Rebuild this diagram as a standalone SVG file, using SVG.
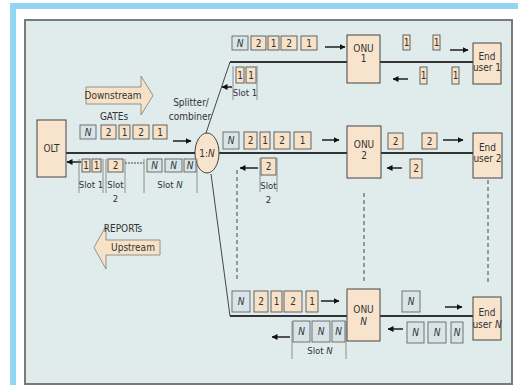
<svg xmlns="http://www.w3.org/2000/svg" width="523" height="385" viewBox="0 0 523 385">
<defs>
<marker id="ah" viewBox="0 0 6 6" refX="5.5" refY="3" markerWidth="6" markerHeight="6" markerUnits="userSpaceOnUse" orient="auto"><path d="M0,0 L6,3 L0,6 Z" fill="#111"/></marker>
<style>
.t{font-family:"DejaVu Sans Condensed","Liberation Sans Narrow","Liberation Sans",sans-serif;font-stretch:condensed;font-size:10px;fill:#333;text-anchor:middle}
.s{font-size:9.5px}
.i{font-style:italic}
.pb{fill:#f7e2c8;stroke:#555;stroke-width:0.9}
.nb{fill:#d8e4e7;stroke:#666;stroke-width:0.9}
.node{fill:#f8e4cc;stroke:#444;stroke-width:1}
.ln{stroke:#333;stroke-width:2;fill:none}
.thin{stroke:#333;stroke-width:0.9;fill:none}
.br{stroke:#777;stroke-width:0.8;fill:none}
.ar{stroke:#111;stroke-width:1.4;fill:none;marker-end:url(#ah)}
.dash{stroke:#333;stroke-width:0.9;stroke-dasharray:4,3;fill:none}
.big{fill:#f7e2c8;stroke:#888;stroke-width:0.9}
</style>
</defs>
<rect x="0" y="0" width="523" height="385" fill="#fff"/>
<rect x="10" y="3" width="508" height="6" fill="#92d6f4"/>
<rect x="10" y="3" width="6" height="382" fill="#92d6f4"/>
<rect x="25" y="20" width="487" height="364" fill="#e0ebeb" stroke="#7a7a7a" stroke-width="2"/>

<g id="connectors">
<line class="ln" x1="66" y1="153" x2="195" y2="153"/>
<line class="ln" x1="230" y1="62" x2="473" y2="62"/>
<line class="ln" x1="219" y1="153" x2="473" y2="153"/>
<line class="ln" x1="230" y1="316" x2="473" y2="316"/>
<line class="thin" x1="206" y1="133" x2="230" y2="62"/>
<line class="thin" x1="211" y1="174" x2="230" y2="316"/>
<line class="dash" x1="237" y1="170" x2="237" y2="280"/>
<line class="dash" x1="364" y1="193" x2="364" y2="282"/>
<line class="dash" x1="488" y1="180" x2="488" y2="285"/>
<line class="ar" x1="173" y1="141" x2="191" y2="141"/>
<line class="ar" x1="81" y1="162" x2="67" y2="162"/>
<line class="ar" x1="325" y1="47" x2="345" y2="47"/>
<line class="ar" x1="232" y1="87" x2="222" y2="87"/>
<line class="ar" x1="450" y1="50" x2="468" y2="50"/>
<line class="ar" x1="408" y1="79" x2="393" y2="79"/>
<line class="ar" x1="322" y1="140" x2="339" y2="140"/>
<line class="ar" x1="258" y1="168" x2="240" y2="168"/>
<line class="ar" x1="443" y1="140" x2="463" y2="140"/>
<line class="ar" x1="402" y1="168" x2="387" y2="168"/>
<line class="ar" x1="321" y1="301" x2="339" y2="301"/>
<line class="ar" x1="290" y1="337" x2="272" y2="337"/>
<line class="ar" x1="445" y1="307" x2="462" y2="307"/>
<line class="ar" x1="403" y1="329" x2="388" y2="329"/>
</g>

<g id="downstream">
<path class="big" d="M86,87 H141 V76 L153,95.5 L141,115 V104 H86 Z"/>
<text class="t" x="113" y="99">Downstream</text>
<text class="t" x="114" y="120">GATEs</text>
</g>
<g id="upstream">
<path class="big" d="M160,240 H106 V226 L94,247.5 L106,269 V255 H160 Z"/>
<text class="t" x="133" y="251">Upstream</text>
<text class="t" x="123" y="232">REPORTs</text>
</g>

<g id="olt">
<rect class="node" x="37" y="120" width="29" height="57"/>
<text class="t" x="51.5" y="152">OLT</text>
</g>

<g id="splitter">
<ellipse class="node" cx="207" cy="153" rx="12" ry="20"/>
<text class="t" x="207" y="157">1:<tspan class="i">N</tspan></text>
<text class="t" x="191" y="106">Splitter/</text>
<text class="t" x="190" y="120">combiner</text>
</g>

<g id="olt-frames">
<rect class="nb" x="80" y="125" width="16" height="14"/><text class="t i" x="88" y="136">N</text>
<rect class="pb" x="101" y="125" width="15" height="14"/><text class="t" x="108.5" y="136">2</text>
<rect class="pb" x="119" y="125" width="11" height="14"/><text class="t" x="124.5" y="136">1</text>
<rect class="pb" x="133" y="125" width="16" height="14"/><text class="t" x="141" y="136">2</text>
<rect class="pb" x="153" y="125" width="14" height="14"/><text class="t" x="160" y="136">1</text>
<rect class="pb" x="82" y="159" width="8" height="13"/><text class="t" x="86" y="169">1</text>
<rect class="pb" x="92" y="159" width="9" height="13"/><text class="t" x="96.5" y="169">1</text>
<rect class="pb" x="108" y="159" width="15" height="13"/><text class="t" x="115.5" y="169">2</text>
<line class="dash" x1="125" y1="163" x2="144" y2="163" style="stroke-dasharray:2,1"/>
<rect class="nb" x="147" y="159" width="15" height="13"/><text class="t i" x="154.5" y="169">N</text>
<rect class="nb" x="165" y="159" width="17" height="13"/><text class="t i" x="173.5" y="169">N</text>
<rect class="nb" x="184" y="159" width="12" height="13"/><text class="t i" x="190" y="169">N</text>
<line class="br" x1="79" y1="159" x2="79" y2="193"/>
<line class="br" x1="103" y1="159" x2="103" y2="193"/>
<line class="br" x1="106" y1="159" x2="106" y2="193"/>
<line class="br" x1="125" y1="159" x2="125" y2="193"/>
<line class="br" x1="144" y1="159" x2="144" y2="193"/>
<line class="br" x1="197" y1="159" x2="197" y2="193"/>
<text class="t s" x="91" y="188">Slot 1</text>
<text class="t s" x="115.5" y="188">Slot</text>
<text class="t s" x="115.5" y="202">2</text>
<text class="t s" x="170" y="188">Slot <tspan class="i">N</tspan></text>
</g>

<g id="onu1-frames">
<rect class="nb" x="232" y="36" width="16" height="14"/><text class="t i" x="240" y="47">N</text>
<rect class="pb" x="251" y="36" width="15" height="14"/><text class="t" x="258.5" y="47">2</text>
<rect class="pb" x="268" y="36" width="11" height="14"/><text class="t" x="273.5" y="47">1</text>
<rect class="pb" x="281" y="36" width="16" height="14"/><text class="t" x="289" y="47">2</text>
<rect class="pb" x="301" y="36" width="16" height="14"/><text class="t" x="309" y="47">1</text>
<rect class="pb" x="236" y="67" width="8" height="16"/><text class="t" x="240" y="79">1</text>
<rect class="pb" x="246" y="67" width="10" height="16"/><text class="t" x="251" y="79">1</text>
<line class="br" x1="233" y1="66" x2="233" y2="100"/>
<line class="br" x1="257" y1="66" x2="257" y2="100"/>
<text class="t s" x="245" y="96">Slot 1</text>
<rect class="pb" x="403" y="35" width="7" height="15"/><text class="t" x="406.5" y="46">1</text>
<rect class="pb" x="433" y="35" width="7" height="15"/><text class="t" x="436.5" y="46">1</text>
<rect class="pb" x="420" y="67" width="7" height="17"/><text class="t" x="423.5" y="79">1</text>
<rect class="pb" x="452" y="67" width="7" height="17"/><text class="t" x="455.5" y="79">1</text>
</g>

<g id="onu1">
<rect class="node" x="347" y="35" width="33" height="48"/>
<text class="t" x="363.5" y="52">ONU</text>
<text class="t" x="363.5" y="62">1</text>
</g>
<g id="enduser1">
<rect class="node" x="473" y="43" width="28" height="41"/>
<text class="t" x="487" y="60">End</text>
<text class="t" x="487" y="71">user 1</text>
</g>

<g id="onu2-frames">
<rect class="nb" x="223" y="132" width="16" height="17"/><text class="t i" x="231" y="144">N</text>
<rect class="pb" x="244" y="132" width="13" height="17"/><text class="t" x="250.5" y="144">2</text>
<rect class="pb" x="260" y="132" width="10" height="17"/><text class="t" x="265" y="144">1</text>
<rect class="pb" x="274" y="132" width="16" height="17"/><text class="t" x="282" y="144">2</text>
<rect class="pb" x="294" y="132" width="17" height="17"/><text class="t" x="302.5" y="144">1</text>
<rect class="pb" x="261" y="158" width="15" height="17"/><text class="t" x="268.5" y="170">2</text>
<line class="br" x1="260" y1="158" x2="260" y2="192"/>
<line class="br" x1="277" y1="158" x2="277" y2="192"/>
<text class="t s" x="268.5" y="189">Slot</text>
<text class="t s" x="268.5" y="203">2</text>
<rect class="pb" x="388" y="133" width="15" height="16"/><text class="t" x="395.5" y="145">2</text>
<rect class="pb" x="422" y="133" width="15" height="16"/><text class="t" x="429.5" y="145">2</text>
<rect class="pb" x="410" y="159" width="12" height="19"/><text class="t" x="416" y="172">2</text>
</g>

<g id="onu2">
<rect class="node" x="347" y="126" width="34" height="52"/>
<text class="t" x="364" y="148">ONU</text>
<text class="t" x="364" y="159">2</text>
</g>
<g id="enduser2">
<rect class="node" x="473" y="133" width="29" height="45"/>
<text class="t" x="487.5" y="151">End</text>
<text class="t" x="487.5" y="162">user 2</text>
</g>

<g id="onuN-frames">
<rect class="nb" x="232" y="291" width="18" height="21"/><text class="t i" x="241" y="305">N</text>
<rect class="pb" x="254" y="291" width="14" height="21"/><text class="t" x="261" y="305">2</text>
<rect class="pb" x="271" y="291" width="11" height="21"/><text class="t" x="276.5" y="305">1</text>
<rect class="pb" x="284" y="291" width="18" height="21"/><text class="t" x="293" y="305">2</text>
<rect class="pb" x="306" y="291" width="12" height="21"/><text class="t" x="312" y="305">1</text>
<rect class="nb" x="293" y="321" width="17" height="21"/><text class="t i" x="301.5" y="335">N</text>
<rect class="nb" x="312" y="321" width="18" height="21"/><text class="t i" x="321" y="335">N</text>
<rect class="nb" x="332" y="321" width="13" height="21"/><text class="t i" x="338.5" y="335">N</text>
<line class="br" x1="292" y1="321" x2="292" y2="359"/>
<line class="br" x1="346" y1="321" x2="346" y2="359"/>
<text class="t s" x="320" y="354">Slot <tspan class="i">N</tspan></text>
<rect class="nb" x="402" y="291" width="18" height="21"/><text class="t i" x="411" y="305">N</text>
<rect class="nb" x="407" y="322" width="17" height="21"/><text class="t i" x="415.5" y="336">N</text>
<rect class="nb" x="428" y="322" width="18" height="21"/><text class="t i" x="437" y="336">N</text>
<rect class="nb" x="451" y="322" width="12" height="21"/><text class="t i" x="457" y="336">N</text>
</g>

<g id="onuN">
<rect class="node" x="347" y="289" width="33" height="52"/>
<text class="t" x="363.5" y="313">ONU</text>
<text class="t i" x="363.5" y="325">N</text>
</g>
<g id="enduserN">
<rect class="node" x="473" y="297" width="28" height="43"/>
<text class="t" x="487" y="316">End</text>
<text class="t" x="487" y="328">user <tspan class="i">N</tspan></text>
</g>
</svg>
